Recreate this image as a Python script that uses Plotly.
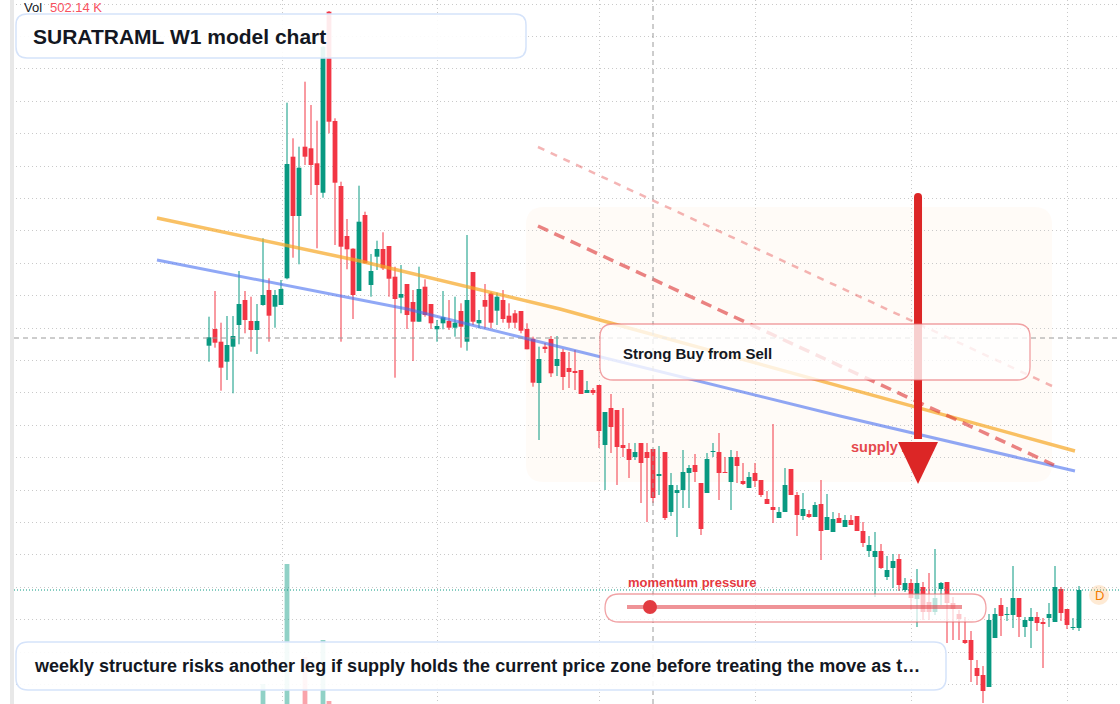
import plotly.graph_objects as go

# ---------------- data (weekly candles) ----------------
ticker = "SURATRAML"
timeframe = "W1"

open_ = [45.43, 47.10, 45.83, 43.83, 45.33, 47.50, 50.00, 47.90, 47.00, 49.50,
         51.00, 49.33, 49.50, 52.17, 64.33, 58.40, 65.33, 65.17, 63.67, 60.73,
         78.83, 67.90, 61.40, 56.40, 55.13, 50.90, 58.50, 51.50, 54.33, 55.10,
         55.40, 52.33, 50.23, 51.60, 49.80, 47.83, 51.33, 49.60, 47.07, 47.67,
         47.90, 47.23, 48.90, 45.83, 52.80, 47.67, 50.00, 50.67, 48.93, 50.00,
         48.43, 48.67, 48.90, 47.10, 46.13, 41.70, 45.33, 46.10, 43.40, 44.80,
         43.20, 42.90, 43.00, 40.70, 41.00, 41.50, 35.50, 39.20, 39.00, 35.50,
         35.10, 34.30, 35.70, 34.80, 35.10, 32.40, 34.80, 28.80, 30.70, 31.00,
         32.70, 33.50, 31.70, 30.70, 34.80, 34.80, 32.80, 31.80, 34.30, 31.90,
         31.20, 32.70, 32.00, 30.10, 29.30, 28.20, 28.80, 33.10, 30.50, 28.40,
         28.60, 28.30, 29.60, 27.00, 26.80, 28.20, 27.30, 28.00, 28.40, 26.90,
         24.90, 24.30, 24.90, 22.30, 23.20, 24.10, 21.00, 21.70, 20.10, 21.30,
         19.80, 18.80, 21.10, 21.80, 19.70, 18.60, 16.00, 16.00, 13.20, 12.50,
         11.30, 16.20, 19.50, 18.50, 18.50, 20.20, 17.30, 17.90, 18.30, 17.80,
         18.20, 17.80, 21.10, 19.10, 17.20, 17.20]

high = [48.33, 50.90, 47.73, 48.40, 48.40, 52.90, 50.90, 50.33, 49.60, 56.17,
        52.17, 51.00, 52.00, 69.73, 66.17, 65.33, 71.83, 69.50, 67.93, 75.40,
        78.90, 68.17, 61.83, 58.10, 55.17, 61.43, 58.83, 54.60, 55.93, 56.77,
        55.40, 53.33, 53.50, 51.60, 51.00, 53.33, 52.07, 49.60, 48.00, 50.90,
        50.00, 50.33, 49.67, 56.50, 52.80, 49.00, 51.60, 50.83, 50.73, 51.00,
        49.67, 49.00, 48.90, 47.67, 46.33, 45.33, 45.70, 46.40, 46.40, 45.10,
        44.80, 45.00, 43.00, 41.90, 41.20, 41.50, 38.80, 40.60, 39.00, 39.20,
        35.70, 35.70, 35.70, 35.70, 35.10, 35.40, 34.80, 32.70, 31.50, 35.00,
        33.50, 34.60, 31.70, 34.70, 35.70, 36.70, 34.30, 35.00, 34.90, 33.70,
        32.80, 33.70, 32.00, 30.90, 37.60, 29.30, 33.20, 33.10, 30.80, 30.70,
        29.00, 29.80, 32.00, 30.60, 28.80, 28.70, 28.50, 28.50, 28.40, 27.80,
        26.40, 26.80, 25.60, 24.40, 24.60, 24.60, 22.20, 22.10, 23.10, 21.80,
        22.70, 25.10, 21.80, 21.80, 20.30, 19.00, 18.30, 16.90, 14.00, 13.40,
        18.60, 19.20, 20.20, 19.30, 23.40, 20.20, 18.30, 19.20, 18.80, 18.20,
        19.70, 23.40, 21.30, 19.10, 18.20, 21.40]

low = [43.83, 45.23, 40.93, 42.00, 40.67, 45.57, 46.67, 44.83, 44.60, 49.43,
       45.83, 47.23, 49.50, 52.07, 54.23, 53.57, 63.50, 60.50, 55.17, 60.23,
       66.67, 55.50, 45.83, 53.07, 48.10, 50.90, 53.67, 50.33, 53.00, 53.00,
       50.33, 42.23, 48.67, 47.10, 43.90, 47.83, 48.33, 47.10, 45.83, 47.07,
       47.00, 46.33, 45.23, 44.93, 47.50, 47.17, 47.17, 47.17, 47.50, 47.73,
       47.17, 47.17, 46.67, 45.07, 41.33, 36.00, 44.70, 42.30, 42.40, 41.00,
       41.20, 41.00, 40.60, 40.70, 40.50, 35.20, 31.00, 34.70, 31.50, 34.30,
       32.20, 34.00, 29.70, 27.80, 29.70, 30.50, 28.00, 28.40, 26.30, 29.20,
       29.20, 31.80, 26.50, 30.70, 34.30, 30.00, 32.70, 29.00, 31.70, 31.50,
       31.20, 31.30, 30.30, 29.60, 27.70, 28.20, 28.80, 30.50, 26.40, 28.00,
       28.20, 28.30, 24.00, 27.00, 26.80, 27.70, 27.30, 27.50, 26.90, 25.30,
       24.30, 20.30, 23.10, 22.00, 21.20, 20.90, 20.80, 19.00, 17.30, 18.00,
       18.00, 18.50, 19.50, 15.70, 16.00, 16.00, 15.60, 11.80, 11.50, 9.70,
       11.30, 16.20, 16.40, 17.90, 17.20, 16.30, 16.30, 15.20, 16.90, 13.20,
       17.30, 17.80, 17.90, 17.10, 17.00, 16.90]

close = [46.27, 45.73, 43.23, 45.50, 46.40, 49.60, 48.00, 47.00, 47.90, 50.50,
         48.43, 50.50, 51.10, 63.60, 58.40, 63.23, 64.33, 63.50, 61.50, 75.33,
         67.83, 61.73, 55.33, 55.07, 50.50, 57.83, 53.67, 52.90, 55.10, 53.17,
         52.13, 50.10, 50.60, 48.50, 47.83, 51.10, 48.50, 47.67, 47.40, 48.27,
         47.23, 47.73, 47.33, 50.00, 47.83, 48.00, 49.33, 47.73, 50.33, 48.10,
         47.73, 47.73, 46.93, 45.07, 41.73, 44.10, 45.17, 42.67, 44.10, 42.30,
         42.80, 42.70, 40.60, 41.00, 40.70, 36.90, 38.80, 37.30, 35.30, 35.20,
         34.00, 34.80, 33.70, 34.20, 30.20, 32.60, 28.20, 31.50, 31.00, 32.80,
         33.20, 32.80, 27.10, 34.10, 34.90, 32.70, 32.70, 34.30, 33.40, 31.60,
         32.30, 31.90, 30.50, 29.60, 29.00, 28.80, 31.50, 30.50, 28.50, 29.10,
         28.30, 29.50, 26.90, 28.30, 28.10, 27.70, 28.00, 27.50, 26.90, 25.70,
         25.50, 24.90, 23.20, 23.00, 23.90, 21.50, 21.70, 20.20, 21.70, 18.80,
         18.80, 20.20, 21.70, 19.70, 19.10, 18.10, 15.70, 14.00, 12.40, 10.90,
         18.00, 18.60, 18.40, 18.60, 20.20, 18.30, 18.00, 18.30, 17.70, 17.60,
         18.60, 21.30, 18.70, 17.50, 17.30, 21.00]

volume = [1200000, 1600000, 2100000, 1400000, 1300000, 2400000, 1500000, 1100000, 1300000, 3800000,
          2200000, 1400000, 1900000, 9800000, 2600000, 2500000, 5150000, 2300000, 2700000, 6000000,
          2950000, 2600000, 2400000, 1800000, 2000000, 2500000, 1700000, 1200000, 1100000, 1300000,
          1400000, 1900000, 1000000, 1200000, 1600000, 1500000, 1100000, 900000, 800000, 900000,
          700000, 800000, 1000000, 2200000, 1600000, 700000, 900000, 1000000, 800000, 900000,
          700000, 600000, 800000, 1000000, 1500000, 1900000, 700000, 1100000, 900000, 1000000,
          800000, 700000, 900000, 600000, 600000, 1600000, 1800000, 1200000, 1300000, 900000,
          800000, 600000, 1100000, 1200000, 1300000, 900000, 1500000, 1000000, 900000, 1000000,
          700000, 700000, 1400000, 1200000, 600000, 1100000, 600000, 1000000, 800000, 600000,
          600000, 700000, 800000, 600000, 1300000, 600000, 900000, 800000, 1000000, 600000,
          500000, 600000, 1200000, 800000, 700000, 500000, 500000, 500000, 600000, 700000,
          600000, 1000000, 800000, 700000, 700000, 900000, 600000, 800000, 1100000, 900000,
          800000, 1200000, 700000, 1100000, 800000, 700000, 800000, 1300000, 1000000, 1400000,
          2100000, 1300000, 900000, 600000, 1000000, 900000, 700000, 800000, 600000, 900000,
          700000, 1200000, 900000, 700000, 500000, 502140]

weeks = list(range(len(close)))

# trend lines: (week index, price) points
orange_x = [-8.67, 25.17, 58.5, 105.17, 144.33]
orange_y = [58.2, 53.9, 49.1, 41.4, 34.9]
blue_x = [-8.67, 33.0, 51.83, 105.17, 144.33]
blue_y = [54.0, 49.1, 46.3, 38.4, 32.9]
red_dash_x = [54.83, 140.83]
red_dash_y = [57.4, 33.5]
pink_dash_x = [54.83, 140.5]
pink_dash_y = [65.3, 41.4]

title_text = f"{ticker} {timeframe} model chart"
signal_text = "Strong Buy from Sell"
zone_text = "supply zone"
momentum_text = "momentum pressure"
note_text = ("weekly structure risks another leg if supply holds the current price zone "
             "before treating the move as t\u2026")

# ---------------- figure ----------------
W, H = 1120, 704
X_RANGE = [-34.833, 151.833]
Y_RANGE = [9.6, 80.0]
UP, DOWN = "#089981", "#f23645"
FONT = "Liberation Sans, Arial, Helvetica, sans-serif"
GRID = dict(showgrid=True, gridcolor="#c9c9c9", griddash="1px,3px", gridwidth=1,
            zeroline=False, showline=False, ticks="", showticklabels=False)
BODY_W = 0.8
MIN_BODY = 0.1


def px(x):
    return x / W


def py(y):
    return 1 - y / H


def rounded(x0, y0, x1, y1, r):
    f = lambda x, y: f"{px(x):.5f},{py(y):.5f}"
    return (f"M{f(x0 + r, y0)} L{f(x1 - r, y0)} Q{f(x1, y0)} {f(x1, y0 + r)} "
            f"L{f(x1, y1 - r)} Q{f(x1, y1)} {f(x1 - r, y1)} L{f(x0 + r, y1)} "
            f"Q{f(x0, y1)} {f(x0, y1 - r)} L{f(x0, y0 + r)} Q{f(x0, y0)} {f(x0 + r, y0)} Z")


fig = go.Figure()

# volume
vol_colors = ["rgba(8,153,129,0.45)" if c >= o else "rgba(242,54,69,0.45)"
              for o, c in zip(open_, close)]
fig.add_trace(go.Bar(x=weeks, y=volume, marker=dict(color=vol_colors, line=dict(width=0)),
                     width=0.8, yaxis="y2", hoverinfo="skip"))

# candles: wicks + bodies
for is_up, color in ((True, UP), (False, DOWN)):
    idx = [i for i in weeks if (close[i] >= open_[i]) == is_up]
    wx, wy = [], []
    for i in idx:
        wx += [i, i, None]
        wy += [low[i], high[i], None]
    fig.add_trace(go.Scatter(x=wx, y=wy, mode="lines", line=dict(color=color, width=1),
                             hoverinfo="skip", connectgaps=False))
    fig.add_trace(go.Bar(x=idx,
                         base=[min(open_[i], close[i]) for i in idx],
                         y=[max(abs(close[i] - open_[i]), MIN_BODY) for i in idx],
                         width=BODY_W, marker=dict(color=color, line=dict(width=0)),
                         hoverinfo="skip"))

fig.add_trace(go.Scatter(x=pink_dash_x, y=pink_dash_y, mode="lines",
                         line=dict(color="rgba(225,60,60,0.38)", width=2.5, dash="7px,7px"),
                         hoverinfo="skip"))
fig.add_trace(go.Scatter(x=orange_x, y=orange_y, mode="lines",
                         line=dict(color="rgba(246,166,35,0.7)", width=3.5), hoverinfo="skip"))
fig.add_trace(go.Scatter(x=blue_x, y=blue_y, mode="lines",
                         line=dict(color="rgba(70,110,240,0.6)", width=3), hoverinfo="skip"))
fig.add_trace(go.Scatter(x=red_dash_x, y=red_dash_y, mode="lines",
                         line=dict(color="rgba(220,50,50,0.6)", width=3.5, dash="11px,7px"),
                         hoverinfo="skip"))
fig.add_trace(go.Scatter(x=[107.0], y=[35.2], mode="text", text=[zone_text],
                         textposition="middle right",
                         textfont=dict(family=FONT, size=14.5, color="#e5484d", weight="bold"),
                         hoverinfo="skip"))

shapes = []
# faint supply zone panel
shapes.append(dict(type="path", xref="paper", yref="paper", path=rounded(526, 207, 1052, 482, 18),
                   fillcolor="rgba(255,238,222,0.25)", line=dict(width=0), layer="between"))
# crosshair
shapes.append(dict(type="line", xref="paper", yref="y", x0=px(14), x1=1, y0=46.2, y1=46.2,
                   line=dict(color="#9a9a9a", width=1, dash="5px,4px"), layer="above"))
shapes.append(dict(type="line", xref="x", yref="paper", x0=74, x1=74, y0=0, y1=1,
                   line=dict(color="#9a9a9a", width=1, dash="5px,4px"), layer="above"))
# last price line
shapes.append(dict(type="line", xref="paper", yref="y", x0=px(14), x1=1, y0=close[-1], y1=close[-1],
                   line=dict(color=UP, width=1, dash="1px,2px"), layer="above"))
# red arrow
ax, a_top, a_base, a_tip, a_half = 118.17, 60.3, 35.8, 31.6, 3.33
shapes.append(dict(type="line", xref="x", yref="y", x0=ax, x1=ax, y0=a_top, y1=a_base + 0.3,
                   line=dict(color="#dc2626", width=8), layer="above"))
shapes.append(dict(type="circle", xref="x", yref="y", x0=ax - 0.667, x1=ax + 0.667,
                   y0=a_top - 0.4, y1=a_top + 0.4, fillcolor="#dc2626", line=dict(width=0),
                   layer="above"))
shapes.append(dict(type="path", xref="x", yref="y",
                   path=f"M{ax - a_half},{a_base} L{ax + a_half},{a_base} L{ax},{a_tip} Z",
                   fillcolor="#dc2626", line=dict(width=0), layer="above"))
# boxes
shapes.append(dict(type="path", xref="paper", yref="paper", path=rounded(16, 14, 526, 58, 11),
                   fillcolor="rgba(255,255,255,0.9)", line=dict(color="#d5e3fa", width=1.5),
                   layer="above"))
shapes.append(dict(type="path", xref="paper", yref="paper", path=rounded(600, 324, 1030, 380, 13),
                   fillcolor="rgba(255,255,255,0.78)", line=dict(color="rgba(232,100,105,0.6)", width=1.3),
                   layer="above"))
shapes.append(dict(type="path", xref="paper", yref="paper", path=rounded(605, 594, 986, 622, 14),
                   fillcolor="rgba(255,255,255,0.72)", line=dict(color="rgba(232,100,105,0.6)", width=1.3),
                   layer="above"))
shapes.append(dict(type="line", xref="paper", yref="paper", x0=px(627), x1=px(962), y0=py(607), y1=py(607),
                   line=dict(color="rgba(226,59,65,0.55)", width=4), layer="above"))
shapes.append(dict(type="circle", xref="paper", yref="paper", x0=px(643), x1=px(657),
                   y0=py(614), y1=py(600), fillcolor="#e23b41", line=dict(width=0), layer="above"))
shapes.append(dict(type="path", xref="paper", yref="paper", path=rounded(16, 642, 946, 690, 12),
                   fillcolor="rgba(255,255,255,0.9)", line=dict(color="#d5e3fa", width=1.5),
                   layer="above"))
# "D" badge
shapes.append(dict(type="circle", xref="paper", yref="paper", x0=px(1089), x1=px(1109),
                   y0=py(605), y1=py(585), fillcolor="rgba(251,180,100,0.28)", line=dict(width=0),
                   layer="above"))
# left edge strip
shapes.append(dict(type="rect", xref="paper", yref="paper", x0=0, x1=px(10), y0=0, y1=1,
                   fillcolor="white", line=dict(width=0), layer="above"))
shapes.append(dict(type="rect", xref="paper", yref="paper", x0=px(10), x1=px(14), y0=0, y1=1,
                   fillcolor="#e8e8e8", line=dict(width=0), layer="above"))

annotations = [
    dict(xref="paper", yref="paper", x=px(22), y=py(8), xanchor="left", yanchor="middle",
         text="Vol", showarrow=False, font=dict(family=FONT, size=13, color="#131722")),
    dict(xref="paper", yref="paper", x=px(48), y=py(8), xanchor="left", yanchor="middle",
         text=f"{volume[-1] / 1000:.2f} K", showarrow=False,
         font=dict(family=FONT, size=13, color="#f7525f")),
    dict(xref="paper", yref="paper", x=px(31), y=py(36), xanchor="left", yanchor="middle",
         text=f"<b>{title_text}</b>", showarrow=False,
         font=dict(family=FONT, size=21, color="#131722")),
    dict(xref="paper", yref="paper", x=px(621), y=py(353), xanchor="left", yanchor="middle",
         text=f"<b>{signal_text}</b>", showarrow=False,
         font=dict(family=FONT, size=15, color="#131722")),
    dict(xref="paper", yref="paper", x=px(626), y=py(582), xanchor="left", yanchor="middle",
         text=f"<b>{momentum_text}</b>", showarrow=False,
         font=dict(family=FONT, size=13, color="#e5393f")),
    dict(xref="paper", yref="paper", x=px(32), y=py(666), xanchor="left", yanchor="middle",
         text=f"<b>{note_text}</b>", showarrow=False,
         font=dict(family=FONT, size=18, color="#131722")),
    dict(xref="paper", yref="paper", x=px(1099), y=py(595), xanchor="center", yanchor="middle",
         text="D", showarrow=False, font=dict(family=FONT, size=13, color="#f57c00")),
]

fig.update_layout(
    width=W, height=H, margin=dict(l=0, r=0, t=0, b=0),
    paper_bgcolor="white", plot_bgcolor="white", showlegend=False,
    shapes=shapes, annotations=annotations, hovermode=False, barmode="overlay",
    xaxis=dict(range=X_RANGE, tickmode="array",
               tickvals=[12.17, 38.0, 65.0, 91.0, 117.0, 143.0], **GRID),
    yaxis=dict(range=Y_RANGE, tick0=79.6, dtick=3.24, **GRID),
    yaxis2=dict(overlaying="y", range=[2.8e6, 38e6], visible=False, showgrid=False),
)

fig.write_html("out.html")
